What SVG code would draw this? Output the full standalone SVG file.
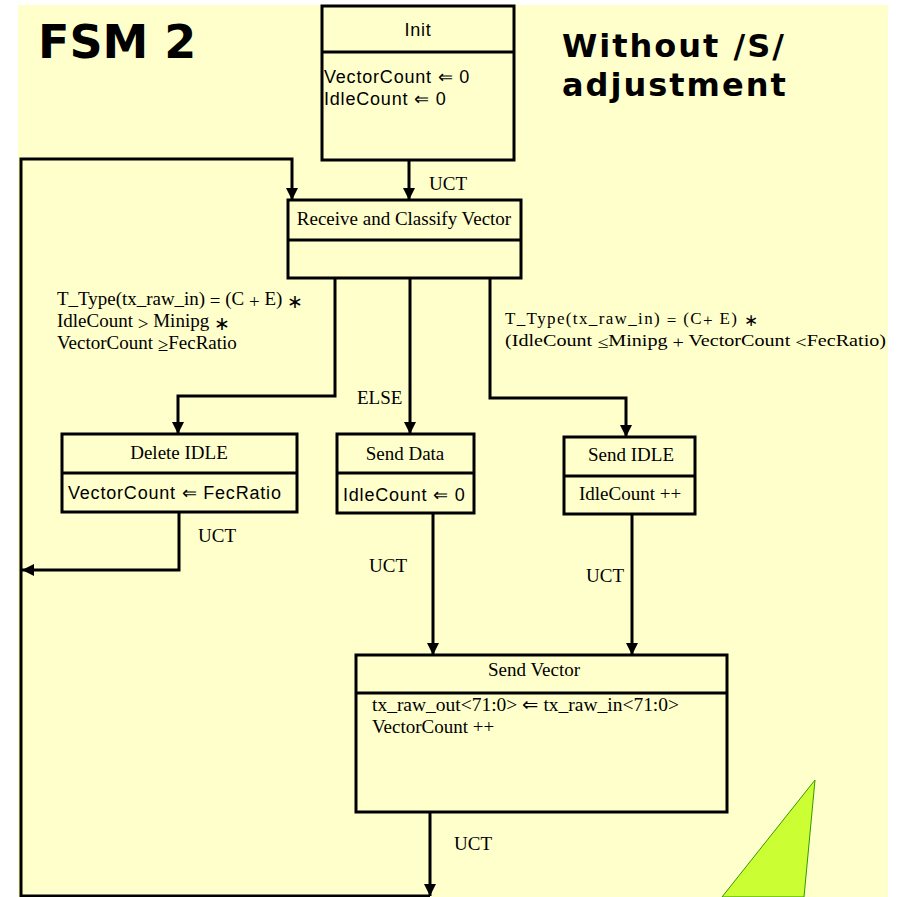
<svg xmlns="http://www.w3.org/2000/svg" width="909" height="897" viewBox="0 0 909 897">
<defs>
<style>
.bg{fill:#FFFFCC}
.box{fill:#FFFFCC;stroke:#000;stroke-width:3}
.ln{fill:none;stroke:#000;stroke-width:3}
.ser{font-family:"Liberation Serif","Times New Roman",serif;font-size:19px;fill:#000}
.cnd{font-family:"Liberation Serif","Times New Roman",serif;font-size:19px;fill:#000}
.cnr{font-family:"Liberation Serif","Times New Roman",serif;font-size:17px;fill:#000}
.san{font-family:"Liberation Sans",Arial,sans-serif;font-size:18px;letter-spacing:0.8px;fill:#000}
.ttl{font-family:"DejaVu Sans",Verdana,sans-serif;font-weight:bold;fill:#000}
</style>
<marker id="ah" markerUnits="userSpaceOnUse" markerWidth="12" markerHeight="12" refX="10" refY="5" orient="auto" viewBox="0 0 10 10">
<path d="M0,0 L10,5 L0,10 z" fill="#000"/>
</marker>
</defs>
<rect class="bg" x="18" y="5" width="870" height="892"/>
<polygon points="815,780 804,897 722,897" fill="#CCFF33" stroke="#339900" stroke-width="1"/>
<text class="ttl" x="38" y="58" font-size="46">FSM 2</text>
<text class="ttl" x="562" y="57" font-size="32" letter-spacing="2">Without /S/</text>
<text class="ttl" x="562" y="96" font-size="32" letter-spacing="2">adjustment</text>

<g id="connectors">
<path class="ln" d="M409,160 V200" marker-end="url(#ah)"/>
<text class="ser" x="429" y="190">UCT</text>
<path class="ln" d="M21,897 V159 H292 V200" marker-end="url(#ah)"/>
<path class="ln" d="M335,278 V396 H178 V434" marker-end="url(#ah)"/>
<path class="ln" d="M410,278 V434" marker-end="url(#ah)"/>
<path class="ln" d="M490,278 V398 H626 V437" marker-end="url(#ah)"/>
<text class="ser" x="357" y="404">ELSE</text>
<text class="cnd" x="57" y="305" textLength="246" lengthAdjust="spacingAndGlyphs">T_Type(tx_raw_in) <tspan dy="2">=</tspan><tspan dy="-2"> (C </tspan><tspan dy="3">+</tspan><tspan dy="-3"> E) </tspan><tspan dy="3">∗</tspan></text>
<text class="cnd" x="57" y="327">IdleCount <tspan dy="3">&gt;</tspan><tspan dy="-3"> Minipg </tspan><tspan dy="3">∗</tspan></text>
<text class="cnd" x="57" y="349">VectorCount <tspan dy="2">≥</tspan><tspan dy="-2">FecRatio</tspan></text>
<text class="cnr" x="505" y="324" textLength="253" lengthAdjust="spacing">T_Type(tx_raw_in) <tspan dy="2">=</tspan><tspan dy="-2"> (C</tspan><tspan dy="2">+</tspan><tspan dy="-2"> E) </tspan><tspan dy="2">∗</tspan></text>
<text class="cnr" x="505" y="346" textLength="381" lengthAdjust="spacingAndGlyphs">(IdleCount <tspan dy="2">≤</tspan><tspan dy="-2">Minipg </tspan><tspan dy="2">+</tspan><tspan dy="-2"> VectorCount </tspan><tspan dy="2">&lt;</tspan><tspan dy="-2">FecRatio)</tspan></text>
<path class="ln" d="M179,512 V570 H22" marker-end="url(#ah)"/>
<text class="ser" x="198" y="542">UCT</text>
<path class="ln" d="M433,513 V655" marker-end="url(#ah)"/>
<text class="ser" x="369" y="572">UCT</text>
<path class="ln" d="M632,514 V655" marker-end="url(#ah)"/>
<text class="ser" x="586" y="582">UCT</text>
<path class="ln" d="M430,812 V896" marker-end="url(#ah)"/>
<path class="ln" d="M21,896 H430"/>
<text class="ser" x="454" y="850">UCT</text>
</g>

<g id="init">
<rect class="box" x="322" y="6" width="192" height="154"/>
<line class="ln" x1="322" y1="52" x2="514" y2="52"/>
<text class="san" x="418" y="36" text-anchor="middle">Init</text>
<text class="san" x="324" y="83">VectorCount ⇐ 0</text>
<text class="san" x="324" y="105">IdleCount ⇐ 0</text>
</g>

<g id="receive">
<rect class="box" x="288" y="200" width="233" height="78"/>
<line class="ln" x1="288" y1="240" x2="521" y2="240"/>
<text class="ser" x="404" y="225" text-anchor="middle">Receive and Classify Vector</text>
</g>

<g id="delete-idle">
<rect class="box" x="62" y="434" width="235" height="78"/>
<line class="ln" x1="62" y1="473" x2="297" y2="473"/>
<text class="ser" x="179" y="459" text-anchor="middle">Delete IDLE</text>
<text class="san" x="68" y="499">VectorCount ⇐ FecRatio</text>
</g>

<g id="send-data">
<rect class="box" x="337" y="434" width="137" height="79"/>
<line class="ln" x1="337" y1="473" x2="474" y2="473"/>
<text class="ser" x="405" y="460" text-anchor="middle">Send Data</text>
<text class="san" x="343" y="501">IdleCount ⇐ 0</text>
</g>

<g id="send-idle">
<rect class="box" x="564" y="437" width="131" height="77"/>
<line class="ln" x1="564" y1="476" x2="695" y2="476"/>
<text class="ser" x="631" y="461" text-anchor="middle">Send IDLE</text>
<text class="ser" x="579" y="500">IdleCount ++</text>
</g>

<g id="send-vector">
<rect class="box" x="356" y="655" width="371" height="157"/>
<line class="ln" x1="356" y1="693" x2="727" y2="693"/>
<text class="ser" x="534" y="676" text-anchor="middle">Send Vector</text>
<text class="ser" x="372" y="711" textLength="307" lengthAdjust="spacingAndGlyphs">tx_raw_out&lt;71:0&gt; ⇐ tx_raw_in&lt;71:0&gt;</text>
<text class="ser" x="372" y="733">VectorCount ++</text>
</g>
</svg>
